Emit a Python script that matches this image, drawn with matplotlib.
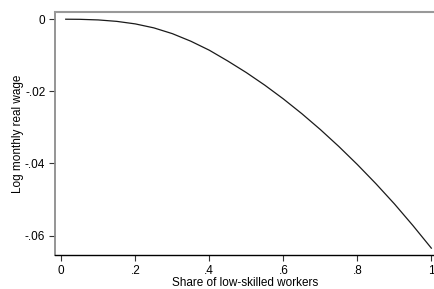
import matplotlib
matplotlib.use("Agg")
import matplotlib.pyplot as plt

# values
share = [0.012, 0.05, 0.1, 0.15, 0.2, 0.25, 0.3, 0.35, 0.4, 0.45, 0.5, 0.55,
         0.6, 0.65, 0.7, 0.75, 0.8, 0.85, 0.9, 0.95, 1.0]
log_wage = [0.0, -0.00003, -0.0002, -0.0006, -0.0013, -0.0024, -0.0040, -0.0061,
            -0.0086, -0.0116, -0.0148, -0.0183, -0.0221, -0.0262, -0.0306,
            -0.0353, -0.0403, -0.0456, -0.0512, -0.0572, -0.0635]

xticks = [0, 0.2, 0.4, 0.6, 0.8, 1.0]
xticklabels = ["0", ".2", ".4", ".6", ".8", "1"]
yticks = [0, -0.02, -0.04, -0.06]
yticklabels = ["0", "-.02", "-.04", "-.06"]

plt.rcParams['font.family'] = ['Liberation Sans', 'DejaVu Sans']

fig = plt.figure(figsize=(4.35, 2.89), dpi=100)
ax = fig.add_axes([55 / 435, 1 - 255 / 289, 380 / 435, 243 / 289])

ax.plot(share, log_wage, color='#1a1a1a', lw=0.9)

ax.set_xlim(-0.017, 1.0099)
ax.set_ylim(-0.0654, 0.0020)
ax.set_xticks(xticks)
ax.set_xticklabels(xticklabels)
ax.set_yticks(yticks)
ax.set_yticklabels(yticklabels)
ax.tick_params(labelsize=8.5, length=4, width=0.8, color='#333333', pad=3)

ax.spines['right'].set_visible(False)
ax.spines['top'].set_color('#999999')
ax.spines['top'].set_linewidth(1.5)
ax.spines['left'].set_color('#8c8c8c')
ax.spines['left'].set_linewidth(1.3)
ax.spines['bottom'].set_color('black')
ax.spines['bottom'].set_linewidth(1.0)

ax.set_xlabel("Share of low-skilled workers", fontsize=8.5, labelpad=0)
ax.set_ylabel("Log monthly real wage", fontsize=8.5, labelpad=1)

fig.savefig("out.png", dpi=100)
